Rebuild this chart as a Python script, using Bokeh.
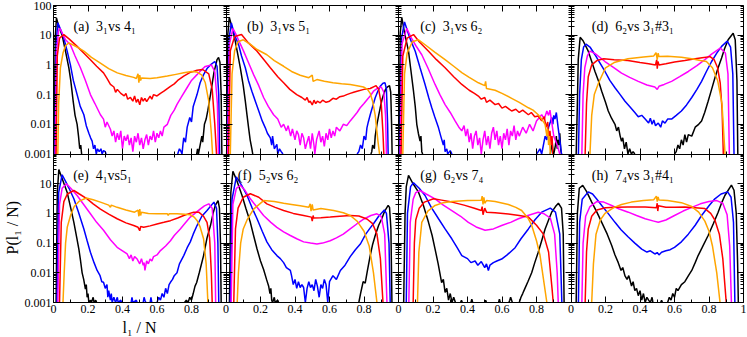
import math
from bokeh.plotting import figure
from bokeh.models import (Range1d, LogAxis, LinearAxis, FixedTicker, Label, Title,
                          LogScale, BasicTickFormatter)
from bokeh.embed import file_html
from bokeh.resources import INLINE

# ---------------- data: (l1/N, P); P = 0 means an empty bin ----------------
A_BLACK = [(0.004,0),(0.01,8),(0.017,38),(0.03,20),(0.05,10),(0.07,2.8),(0.089,0.8),(0.1,0.3),(0.114,0.06),(0.125,0.02),(0.137,0.01),(0.145,0.004),(0.152,0.0015),(0.158,0.002),(0.163,0),
           (0.83,0),(0.835,0.0015),(0.84,0),(0.85,0.002),(0.86,0.004),(0.865,0.0025),(0.875,0.01),(0.885,0.015),(0.895,0.03),(0.91,0.1),(0.93,0.55),(0.948,1.5),(0.957,1.8),(0.965,1.2),(0.972,0.1),(0.976,0)]
A_BLUE = [(0.008,0),(0.015,5),(0.025,26),(0.04,16),(0.06,8),(0.08,2.8),(0.098,1.0),(0.115,0.3),(0.137,0.1),(0.155,0.04),(0.176,0.021),(0.19,0.009),(0.205,0.005),(0.215,0.0035),(0.224,0.0027),(0.232,0.0015),(0.24,0.002),(0.248,0),(0.255,0.0015),(0.265,0.0012),(0.275,0.0015),(0.282,0),(0.29,0.0013),(0.3,0.0012),(0.305,0),
          (0.72,0),(0.73,0.0015),(0.74,0.0012),(0.745,0),(0.75,0.002),(0.755,0.0035),(0.765,0.0025),(0.775,0.008),(0.79,0.017),(0.8,0.012),(0.81,0.04),(0.832,0.1),(0.85,0.25),(0.87,0.47),(0.89,0.75),(0.91,1.0),(0.935,1.3),(0.948,0.9),(0.958,0.1),(0.963,0)]
A_MAGENTA = [(0.01,0),(0.018,3),(0.03,15),(0.037,17),(0.05,12),(0.07,7),(0.098,4.8),(0.125,2.0),(0.156,0.8),(0.185,0.3),(0.214,0.1),(0.24,0.05),(0.272,0.021),(0.29,0.015),(0.3,0.008),(0.31,0.012),(0.33,0.0068),(0.34,0.004),(0.35,0.006),(0.36,0.0025),(0.37,0.005),(0.38,0.003),(0.39,0.006),(0.4,0.0015),(0.41,0.004),(0.42,0.0028),(0.43,0.0045),(0.44,0.002),(0.45,0.0035),(0.46,0.0012),(0.47,0.004),(0.48,0.0025),(0.49,0.005),(0.5,0.002),(0.51,0.0035),(0.52,0.0015),(0.53,0.003),(0.54,0.0045),(0.55,0.002),(0.56,0.004),(0.57,0.003),(0.58,0.006),(0.59,0.0025),(0.6,0.005),(0.61,0.0035),(0.62,0.006),(0.63,0.004),(0.64,0.008),(0.66,0.01),(0.68,0.02),(0.7,0.03),(0.716,0.047),(0.74,0.08),(0.774,0.17),(0.8,0.3),(0.832,0.47),(0.86,0.7),(0.88,0.89),(0.915,1.0),(0.935,0.6),(0.95,0.05),(0.956,0)]
A_RED = [(0.015,0),(0.022,2),(0.035,8),(0.06,10.5),(0.09,7.5),(0.137,4.2),(0.175,2.5),(0.214,1.5),(0.25,0.9),(0.29,0.54),(0.31,0.35),(0.33,0.22),(0.35,0.18),(0.36,0.12),(0.37,0.15),(0.39,0.11),(0.41,0.09),(0.42,0.11),(0.43,0.07),(0.446,0.08),(0.46,0.06),(0.47,0.09),(0.48,0.055),(0.49,0.07),(0.5,0.045),(0.51,0.08),(0.52,0.06),(0.53,0.075),(0.54,0.058),(0.56,0.089),(0.57,0.07),(0.58,0.1),(0.6,0.09),(0.62,0.11),(0.64,0.13),(0.66,0.16),(0.678,0.19),(0.7,0.23),(0.72,0.3),(0.755,0.42),(0.79,0.55),(0.832,0.66),(0.865,0.7),(0.9,0.5),(0.92,0.15),(0.935,0.01),(0.945,0)]
A_ORANGE = [(0.025,0),(0.03,0.05),(0.04,0.8),(0.055,2.5),(0.07,4.5),(0.089,5.5),(0.12,4.5),(0.15,3.6),(0.176,2.9),(0.22,1.8),(0.272,1.15),(0.32,0.75),(0.37,0.54),(0.42,0.44),(0.465,0.38),(0.48,0.35),(0.49,0.5),(0.495,0.25),(0.5,0.45),(0.505,0.3),(0.51,0.36),(0.56,0.35),(0.6,0.37),(0.66,0.42),(0.71,0.48),(0.755,0.54),(0.8,0.6),(0.83,0.58),(0.86,0.45),(0.88,0.25),(0.9,0.06),(0.915,0.005),(0.922,0)]

B_BLACK = [(0.004,0),(0.01,10),(0.019,40),(0.035,18),(0.054,6.2),(0.07,2),(0.083,0.8),(0.1,0.2),(0.112,0.06),(0.122,0.02),(0.131,0.0076),(0.14,0.003),(0.15,0.0015),(0.155,0),
           (0.84,0),(0.845,0.0012),(0.85,0.002),(0.86,0.0015),(0.865,0.004),(0.875,0.01),(0.885,0.02),(0.894,0.036),(0.905,0.07),(0.913,0.1),(0.925,0.15),(0.935,0.18),(0.948,0.2),(0.955,0.12),(0.96,0.01),(0.963,0)]
B_BLUE = [(0.008,0),(0.018,8),(0.031,26),(0.05,10),(0.073,4.8),(0.09,2),(0.112,0.8),(0.13,0.3),(0.15,0.13),(0.17,0.06),(0.19,0.028),(0.21,0.013),(0.228,0.0076),(0.24,0.005),(0.257,0.0035),(0.265,0.002),(0.27,0.004),(0.28,0.0015),(0.295,0.0021),(0.3,0),(0.31,0.0015),(0.32,0.0012),(0.33,0),
          (0.76,0),(0.77,0.0012),(0.78,0.002),(0.79,0.0015),(0.8,0.004),(0.81,0.003),(0.817,0.0076),(0.825,0.012),(0.836,0.021),(0.85,0.04),(0.865,0.078),(0.88,0.13),(0.894,0.19),(0.91,0.24),(0.922,0.25),(0.93,0.15),(0.937,0.01),(0.94,0)]
B_MAGENTA = [(0.01,0),(0.02,5),(0.04,17),(0.06,10),(0.08,5.5),(0.102,2.9),(0.13,1.2),(0.16,0.47),(0.19,0.2),(0.218,0.08),(0.245,0.04),(0.276,0.021),(0.3,0.015),(0.32,0.008),(0.334,0.01),(0.35,0.006),(0.36,0.009),(0.375,0.004),(0.385,0.007),(0.4,0.003),(0.41,0.006),(0.42,0.0045),(0.43,0.002),(0.44,0.005),(0.45,0.0035),(0.46,0.0015),(0.47,0.0025),(0.48,0.004),(0.49,0.0015),(0.5,0.005),(0.51,0.002),(0.515,0),(0.525,0.003),(0.54,0.006),(0.55,0.0025),(0.56,0.004),(0.57,0.0018),(0.58,0.005),(0.59,0.003),(0.6,0.007),(0.61,0.0035),(0.62,0.006),(0.63,0.004),(0.64,0.008),(0.66,0.006),(0.68,0.01),(0.7,0.009),(0.72,0.013),(0.74,0.018),(0.76,0.025),(0.778,0.036),(0.8,0.05),(0.82,0.07),(0.836,0.09),(0.855,0.13),(0.875,0.16),(0.9,0.18),(0.915,0.12),(0.925,0.02),(0.93,0)]
B_RED = [(0.015,0),(0.025,3),(0.05,9),(0.09,10.5),(0.13,5.5),(0.18,2.9),(0.22,1.5),(0.257,0.8),(0.3,0.4),(0.334,0.25),(0.37,0.15),(0.41,0.1),(0.44,0.08),(0.46,0.065),(0.47,0.08),(0.48,0.055),(0.488,0.06),(0.5,0.045),(0.51,0.065),(0.52,0.05),(0.53,0.06),(0.546,0.053),(0.56,0.065),(0.58,0.055),(0.6,0.06),(0.62,0.075),(0.64,0.07),(0.66,0.085),(0.68,0.089),(0.7,0.1),(0.72,0.11),(0.74,0.12),(0.76,0.13),(0.8,0.15),(0.836,0.16),(0.87,0.2),(0.885,0.15),(0.9,0.05),(0.91,0.005),(0.915,0)]
B_ORANGE = [(0.025,0),(0.035,0.5),(0.05,3),(0.07,6),(0.1,7),(0.14,5),(0.18,3.3),(0.237,2.2),(0.28,1.4),(0.334,0.9),(0.38,0.6),(0.43,0.45),(0.48,0.37),(0.5,0.45),(0.505,0.28),(0.527,0.32),(0.57,0.28),(0.62,0.25),(0.67,0.23),(0.72,0.22),(0.76,0.2),(0.797,0.18),(0.82,0.15),(0.836,0.11),(0.85,0.06),(0.865,0.02),(0.88,0.003),(0.89,0)]

C_BLACK = [(0.004,0),(0.01,12),(0.019,40),(0.035,12),(0.058,2.9),(0.07,0.8),(0.087,0.13),(0.097,0.04),(0.106,0.01),(0.115,0.005),(0.125,0.0027),(0.13,0.004),(0.135,0.0012),(0.14,0),
           (0.88,0),(0.885,0.0015),(0.89,0.003),(0.895,0.0012),(0.9,0),(0.91,0.002),(0.915,0.004),(0.92,0.0015),(0.925,0.003),(0.93,0.002),(0.935,0.005),(0.94,0.0015),(0.945,0)]
C_BLUE = [(0.008,0),(0.018,8),(0.035,28),(0.06,10),(0.08,5),(0.097,2.9),(0.125,0.8),(0.154,0.22),(0.175,0.08),(0.193,0.036),(0.21,0.018),(0.232,0.0076),(0.245,0.004),(0.26,0.002),(0.265,0.003),(0.27,0.0012),(0.28,0.0015),(0.285,0),(0.3,0.0013),(0.31,0),
          (0.8,0),(0.81,0.0012),(0.82,0.0015),(0.83,0),(0.84,0.002),(0.85,0.004),(0.86,0.003),(0.87,0.008),(0.88,0.012),(0.888,0.017),(0.895,0.01),(0.9,0.02),(0.907,0.015),(0.915,0.025),(0.925,0.008),(0.935,0.003),(0.945,0)]
C_MAGENTA = [(0.01,0),(0.02,5),(0.048,17),(0.07,9),(0.1,4.5),(0.135,2.2),(0.17,0.8),(0.212,0.22),(0.24,0.1),(0.27,0.046),(0.3,0.025),(0.328,0.013),(0.35,0.008),(0.367,0.006),(0.38,0.009),(0.39,0.004),(0.4,0.007),(0.41,0.0025),(0.42,0.005),(0.43,0.0015),(0.44,0.004),(0.45,0.006),(0.46,0.002),(0.47,0.0035),(0.48,0),(0.49,0.003),(0.5,0.006),(0.51,0.002),(0.52,0.004),(0.53,0.0015),(0.54,0.005),(0.55,0.008),(0.56,0.003),(0.57,0.006),(0.58,0.002),(0.59,0.004),(0.6,0.0015),(0.61,0.005),(0.62,0.003),(0.63,0.007),(0.64,0.002),(0.65,0.006),(0.66,0.004),(0.67,0.009),(0.68,0.003),(0.69,0.006),(0.7,0.004),(0.72,0.008),(0.74,0.005),(0.76,0.01),(0.78,0.006),(0.8,0.013),(0.82,0.018),(0.83,0.021),(0.845,0.015),(0.86,0.028),(0.87,0.02),(0.878,0.03),(0.888,0.012),(0.9,0.004),(0.92,0.002),(0.935,0)]
C_RED = [(0.015,0),(0.025,2),(0.05,8),(0.087,10.5),(0.12,6),(0.174,2.9),(0.22,1.5),(0.27,0.8),(0.32,0.4),(0.367,0.22),(0.41,0.14),(0.44,0.11),(0.463,0.089),(0.48,0.07),(0.5,0.08),(0.51,0.055),(0.53,0.065),(0.56,0.046),(0.58,0.05),(0.6,0.035),(0.62,0.04),(0.656,0.028),(0.68,0.032),(0.7,0.025),(0.72,0.03),(0.753,0.021),(0.77,0.025),(0.79,0.018),(0.81,0.019),(0.83,0.013),(0.845,0.018),(0.855,0.008),(0.865,0.012),(0.872,0.003),(0.878,0.006),(0.885,0.002),(0.89,0.004),(0.895,0)]
C_ORANGE = [(0.025,0),(0.035,0.5),(0.05,2.5),(0.08,6),(0.116,7),(0.16,4.5),(0.21,2.7),(0.27,1.5),(0.32,0.9),(0.367,0.55),(0.41,0.38),(0.463,0.25),(0.5,0.2),(0.505,0.28),(0.51,0.16),(0.56,0.14),(0.6,0.11),(0.656,0.075),(0.7,0.055),(0.753,0.036),(0.78,0.03),(0.81,0.021),(0.83,0.015),(0.85,0.01),(0.86,0.004),(0.865,0.007),(0.87,0.002),(0.875,0.004),(0.88,0)]

D_BLACK = [(0.03,0),(0.037,0.05),(0.042,1.5),(0.053,8.5),(0.07,6.5),(0.1,2.9),(0.12,1.3),(0.139,0.6),(0.16,0.28),(0.178,0.13),(0.2,0.055),(0.216,0.028),(0.235,0.016),(0.255,0.01),(0.265,0.006),(0.275,0.008),(0.285,0.004),(0.293,0.0027),(0.3,0.0035),(0.31,0.0015),(0.32,0.0025),(0.33,0),(0.34,0.0015),(0.35,0),(0.36,0.0012),(0.37,0),
           (0.6,0),(0.61,0.0012),(0.62,0.002),(0.63,0.0015),(0.64,0.003),(0.65,0.002),(0.66,0.0045),(0.67,0.0025),(0.68,0.0045),(0.7,0.004),(0.72,0.008),(0.74,0.01),(0.757,0.013),(0.775,0.025),(0.795,0.06),(0.815,0.15),(0.834,0.36),(0.853,0.8),(0.873,1.7),(0.89,3.5),(0.911,7),(0.94,11.7),(0.952,7),(0.962,0.3),(0.967,0)]
D_BLUE = [(0.043,0),(0.05,0.1),(0.06,1.5),(0.073,4),(0.087,5),(0.11,4),(0.139,2.2),(0.17,1.1),(0.197,0.6),(0.225,0.3),(0.255,0.17),(0.285,0.1),(0.313,0.06),(0.34,0.04),(0.37,0.025),(0.39,0.018),(0.41,0.02),(0.43,0.015),(0.45,0.011),(0.46,0.016),(0.47,0.01),(0.48,0.014),(0.49,0.009),(0.506,0.011),(0.52,0.008),(0.53,0.013),(0.545,0.011),(0.56,0.015),(0.583,0.015),(0.61,0.02),(0.64,0.028),(0.67,0.045),(0.7,0.08),(0.73,0.15),(0.757,0.28),(0.785,0.6),(0.815,1.3),(0.845,2.5),(0.873,4.2),(0.906,6.3),(0.925,4),(0.938,0.5),(0.945,0)]
D_MAGENTA = [(0.063,0),(0.07,0.1),(0.08,0.8),(0.095,2),(0.11,2.9),(0.14,2.4),(0.197,1.3),(0.25,0.8),(0.293,0.53),(0.34,0.38),(0.39,0.28),(0.44,0.21),(0.486,0.18),(0.5,0.15),(0.51,0.19),(0.54,0.22),(0.583,0.28),(0.63,0.4),(0.68,0.6),(0.73,0.95),(0.776,1.5),(0.815,2.3),(0.865,3.7),(0.895,2.5),(0.91,0.5),(0.918,0)]
D_RED = [(0.082,0),(0.09,0.05),(0.1,0.4),(0.12,1.0),(0.15,1.4),(0.19,1.6),(0.25,1.5),(0.33,1.4),(0.4,1.2),(0.45,1.1),(0.49,1.0),(0.497,1.5),(0.5,0.75),(0.504,1.3),(0.51,1.0),(0.55,1.1),(0.6,1.25),(0.66,1.4),(0.72,1.6),(0.76,1.75),(0.806,1.9),(0.83,1.5),(0.85,0.8),(0.865,0.25),(0.876,0.03),(0.883,0)]
D_ORANGE = [(0.11,0),(0.12,0.02),(0.135,0.1),(0.16,0.25),(0.2,0.8),(0.25,1.2),(0.33,1.6),(0.42,1.85),(0.48,2.0),(0.493,2.6),(0.5,1.5),(0.505,2.5),(0.51,1.9),(0.56,1.95),(0.64,1.8),(0.7,1.6),(0.75,1.4),(0.785,1.3),(0.82,0.8),(0.85,0.3),(0.875,0.05),(0.893,0)]

E_BLACK = [(0.015,0),(0.022,5),(0.031,30),(0.05,15),(0.079,5.2),(0.1,1.5),(0.118,0.5),(0.135,0.15),(0.147,0.063),(0.157,0.025),(0.166,0.01),(0.175,0.006),(0.185,0.0028),(0.19,0.004),(0.195,0.0015),(0.2,0.002),(0.205,0),(0.215,0.0012),(0.22,0),(0.23,0.0015),(0.235,0),(0.245,0.0012),(0.25,0),
           (0.76,0),(0.77,0.0012),(0.78,0),(0.79,0.0015),(0.8,0.0012),(0.81,0.002),(0.82,0.0035),(0.83,0.0047),(0.845,0.01),(0.87,0.038),(0.89,0.15),(0.91,0.39),(0.925,1.0),(0.938,1.85),(0.954,2.7),(0.962,1.5),(0.968,0.1),(0.972,0)]
E_BLUE = [(0.02,0),(0.03,5),(0.05,20),(0.07,12),(0.09,7),(0.118,3.1),(0.145,1.1),(0.176,0.3),(0.195,0.12),(0.214,0.049),(0.235,0.022),(0.253,0.012),(0.27,0.008),(0.28,0.005),(0.29,0.0048),(0.3,0.003),(0.31,0.004),(0.315,0.0015),(0.32,0.0025),(0.33,0.0012),(0.335,0.002),(0.34,0),(0.35,0.0015),(0.355,0.0012),(0.36,0),(0.37,0.0015),(0.375,0),(0.39,0.0012),(0.395,0),
          (0.45,0),(0.455,0.0015),(0.46,0),(0.48,0.0012),(0.485,0),(0.52,0),(0.525,0.0015),(0.53,0.0012),(0.535,0),(0.56,0),(0.565,0.0015),(0.57,0),
          (0.6,0),(0.61,0.0015),(0.62,0.0012),(0.63,0.002),(0.64,0.0015),(0.65,0.003),(0.66,0.002),(0.67,0.004),(0.678,0.0048),(0.69,0.006),(0.7,0.008),(0.716,0.01),(0.73,0.02),(0.755,0.038),(0.775,0.07),(0.793,0.11),(0.81,0.2),(0.832,0.39),(0.86,0.8),(0.89,1.25),(0.93,2.4),(0.945,1.5),(0.953,0.1),(0.958,0)]
E_MAGENTA = [(0.025,0),(0.035,2),(0.05,7),(0.075,10),(0.1,7),(0.137,4),(0.175,2),(0.214,0.97),(0.25,0.5),(0.29,0.27),(0.33,0.13),(0.369,0.072),(0.4,0.055),(0.427,0.043),(0.44,0.03),(0.45,0.04),(0.46,0.025),(0.47,0.035),(0.485,0.029),(0.5,0.02),(0.51,0.03),(0.52,0.018),(0.525,0.022),(0.53,0.012),(0.54,0.025),(0.55,0.02),(0.56,0.029),(0.57,0.025),(0.58,0.035),(0.6,0.04),(0.62,0.056),(0.65,0.08),(0.678,0.12),(0.7,0.18),(0.735,0.3),(0.76,0.45),(0.793,0.75),(0.82,1.0),(0.85,1.4),(0.875,1.8),(0.9,2.1),(0.92,1.5),(0.935,0.1),(0.94,0)]
E_RED = [(0.035,0),(0.045,0.5),(0.06,2.5),(0.08,4.5),(0.118,5.9),(0.15,4.5),(0.195,3.1),(0.23,2.1),(0.272,1.4),(0.32,0.95),(0.369,0.66),(0.42,0.48),(0.465,0.39),(0.49,0.34),(0.5,0.26),(0.505,0.36),(0.523,0.34),(0.56,0.38),(0.6,0.44),(0.64,0.5),(0.678,0.57),(0.72,0.7),(0.755,0.85),(0.79,1.0),(0.813,1.1),(0.842,1.1),(0.87,0.8),(0.89,0.5),(0.905,0.15),(0.915,0.01),(0.92,0)]
E_ORANGE = [(0.055,0),(0.062,0.01),(0.07,0.1),(0.08,0.35),(0.1,0.9),(0.12,1.7),(0.15,2.6),(0.19,3.3),(0.23,2.9),(0.272,2.4),(0.32,1.9),(0.33,1.6),(0.335,1.9),(0.369,1.6),(0.42,1.3),(0.47,1.1),(0.49,1.3),(0.495,0.8),(0.5,1.4),(0.505,0.85),(0.51,1.1),(0.55,1.0),(0.6,0.97),(0.66,0.97),(0.665,0.85),(0.67,0.97),(0.716,0.97),(0.76,0.93),(0.793,0.9),(0.815,0.75),(0.832,0.58),(0.85,0.35),(0.87,0.14),(0.885,0.02),(0.895,0)]

F_BLACK = [(0.02,0),(0.028,5),(0.04,26),(0.06,14),(0.093,4),(0.115,1.5),(0.141,0.5),(0.16,0.18),(0.18,0.063),(0.2,0.025),(0.218,0.013),(0.235,0.006),(0.247,0.0036),(0.255,0.002),(0.26,0.003),(0.265,0.0012),(0.27,0),(0.28,0.0015),(0.285,0),(0.3,0.0012),(0.305,0),
           (0.77,0),(0.78,0.002),(0.795,0.005),(0.807,0.0045),(0.82,0.012),(0.836,0.038),(0.85,0.09),(0.865,0.18),(0.885,0.4),(0.903,0.66),(0.92,1.2),(0.94,1.85),(0.948,1.6),(0.956,0.3),(0.962,0)]
F_BLUE = [(0.025,0),(0.035,3),(0.06,17),(0.09,9),(0.122,4),(0.15,1.6),(0.18,0.66),(0.21,0.25),(0.237,0.11),(0.265,0.06),(0.295,0.038),(0.315,0.03),(0.334,0.022),(0.35,0.015),(0.373,0.012),(0.38,0.008),(0.39,0.004),(0.4,0.006),(0.41,0.003),(0.42,0.005),(0.43,0.0032),(0.44,0.004),(0.45,0.0032),(0.46,0),(0.47,0.003),(0.48,0.005),(0.49,0.0032),(0.5,0.004),(0.51,0.0025),(0.52,0.006),(0.53,0.0035),(0.54,0.0015),(0.55,0.004),(0.56,0.003),(0.57,0.006),(0.58,0.004),(0.59,0),(0.6,0.005),(0.62,0.008),(0.64,0.006),(0.663,0.012),(0.69,0.018),(0.72,0.035),(0.75,0.06),(0.78,0.095),(0.81,0.2),(0.835,0.32),(0.855,0.45),(0.885,0.8),(0.918,1.3),(0.93,1.0),(0.945,0.1),(0.952,0)]
F_MAGENTA = [(0.03,0),(0.04,2),(0.06,7),(0.083,8.8),(0.11,6),(0.141,3.1),(0.18,1.6),(0.218,0.85),(0.26,0.5),(0.295,0.34),(0.334,0.24),(0.373,0.18),(0.41,0.14),(0.45,0.11),(0.49,0.1),(0.527,0.094),(0.56,0.1),(0.604,0.12),(0.64,0.15),(0.68,0.2),(0.72,0.3),(0.758,0.44),(0.8,0.65),(0.84,0.85),(0.875,0.97),(0.9,0.8),(0.92,0.2),(0.933,0)]
F_RED = [(0.045,0),(0.055,0.3),(0.07,1.5),(0.1,3.5),(0.141,4.6),(0.19,3.5),(0.237,2.1),(0.285,1.6),(0.334,1.25),(0.39,1.0),(0.45,0.85),(0.495,0.75),(0.5,0.55),(0.505,0.85),(0.508,0.7),(0.55,0.72),(0.604,0.75),(0.66,0.8),(0.72,0.85),(0.77,0.82),(0.817,0.65),(0.85,0.45),(0.875,0.2),(0.895,0.03),(0.91,0)]
F_ORANGE = [(0.065,0),(0.072,0.01),(0.085,0.1),(0.1,0.3),(0.122,0.6),(0.16,1.4),(0.218,2.7),(0.28,2.5),(0.334,2.2),(0.38,2.0),(0.43,1.8),(0.48,1.6),(0.488,2.1),(0.493,1.2),(0.5,2.0),(0.505,1.3),(0.55,1.45),(0.624,1.25),(0.68,1.05),(0.72,0.85),(0.76,0.55),(0.8,0.25),(0.83,0.08),(0.855,0.01),(0.875,0)]

G_BLACK = [(0.03,0),(0.038,1),(0.045,8),(0.058,19),(0.08,11),(0.116,5.2),(0.145,1.8),(0.174,0.5),(0.195,0.18),(0.212,0.063),(0.23,0.02),(0.25,0.0047),(0.26,0.006),(0.27,0.0022),(0.28,0.003),(0.29,0.0012),(0.3,0.002),(0.31,0),(0.32,0.0015),(0.33,0),(0.36,0),(0.365,0.0012),(0.37,0),(0.42,0),(0.425,0.0013),(0.43,0),(0.5,0),(0.505,0.0012),(0.51,0),(0.58,0),(0.585,0.0013),(0.59,0),(0.64,0),(0.645,0.0012),(0.65,0.0015),(0.66,0),
           (0.7,0),(0.71,0.0015),(0.72,0.002),(0.733,0.003),(0.75,0.005),(0.772,0.01),(0.79,0.022),(0.81,0.049),(0.83,0.12),(0.85,0.3),(0.87,0.6),(0.888,1.1),(0.91,1.7),(0.927,2.2),(0.945,1.5),(0.955,0.2),(0.96,0)]
G_BLUE = [(0.045,0),(0.052,1),(0.07,8),(0.087,10.8),(0.12,7),(0.154,4),(0.19,1.6),(0.232,0.66),(0.27,0.3),(0.309,0.14),(0.34,0.07),(0.367,0.038),(0.4,0.03),(0.42,0.022),(0.444,0.025),(0.46,0.018),(0.48,0.024),(0.5,0.015),(0.51,0.02),(0.521,0.012),(0.53,0.018),(0.55,0.022),(0.57,0.025),(0.598,0.029),(0.63,0.04),(0.676,0.07),(0.71,0.14),(0.753,0.3),(0.79,0.6),(0.83,1.1),(0.88,1.5),(0.91,1.1),(0.935,0.2),(0.947,0)]
G_MAGENTA = [(0.06,0),(0.068,0.5),(0.085,3),(0.1,5),(0.125,5.9),(0.16,4.5),(0.212,3.1),(0.26,1.9),(0.309,1.25),(0.36,0.8),(0.405,0.5),(0.45,0.35),(0.502,0.27),(0.55,0.3),(0.598,0.39),(0.65,0.5),(0.695,0.66),(0.75,0.85),(0.81,1.1),(0.84,1.0),(0.88,0.7),(0.905,0.2),(0.92,0.01),(0.926,0)]
G_RED = [(0.085,0),(0.092,0.1),(0.1,0.6),(0.12,1.5),(0.15,2.4),(0.203,3.1),(0.25,2.8),(0.31,2.4),(0.38,1.9),(0.44,1.5),(0.48,1.25),(0.485,1.7),(0.49,0.9),(0.5,1.5),(0.51,1.1),(0.56,1.05),(0.637,0.95),(0.7,0.85),(0.753,0.75),(0.8,0.4),(0.84,0.2),(0.87,0.05),(0.89,0.003),(0.897,0)]
G_ORANGE = [(0.11,0),(0.118,0.05),(0.135,0.5),(0.17,1.2),(0.212,1.85),(0.26,2.3),(0.309,2.5),(0.4,2.7),(0.48,2.75),(0.485,3.8),(0.49,2.0),(0.495,3.5),(0.5,2.2),(0.51,2.7),(0.56,2.5),(0.637,2.0),(0.68,1.6),(0.714,1.25),(0.75,0.7),(0.772,0.4),(0.8,0.12),(0.82,0.04),(0.845,0.004),(0.86,0)]

H_BLACK = [(0.03,0),(0.037,1),(0.048,7),(0.068,8.8),(0.09,5.5),(0.12,2.4),(0.15,1.1),(0.178,0.5),(0.21,0.2),(0.236,0.083),(0.255,0.04),(0.274,0.022),(0.29,0.012),(0.3,0.015),(0.313,0.0079),(0.325,0.006),(0.335,0.008),(0.351,0.0036),(0.36,0.005),(0.37,0.0025),(0.38,0.003),(0.39,0.0017),(0.4,0.0025),(0.41,0.0012),(0.42,0.002),(0.43,0),(0.44,0.0015),(0.45,0.0012),(0.46,0),(0.47,0.0015),(0.475,0),(0.52,0),(0.525,0.0012),(0.53,0),
           (0.56,0),(0.57,0.0015),(0.58,0.0012),(0.59,0.002),(0.6,0.0015),(0.61,0.003),(0.62,0.0025),(0.64,0.004),(0.66,0.005),(0.68,0.0079),(0.7,0.012),(0.72,0.022),(0.737,0.038),(0.76,0.07),(0.795,0.18),(0.825,0.45),(0.853,1.1),(0.875,2.4),(0.892,4),(0.93,9),(0.945,6),(0.958,1),(0.966,0.02),(0.97,0)]
H_BLUE = [(0.043,0),(0.05,0.5),(0.065,3),(0.1,5.3),(0.125,4.5),(0.15,3),(0.178,1.85),(0.215,1.0),(0.255,0.5),(0.29,0.28),(0.332,0.16),(0.37,0.1),(0.41,0.063),(0.44,0.05),(0.46,0.055),(0.486,0.043),(0.5,0.048),(0.51,0.04),(0.525,0.049),(0.55,0.055),(0.575,0.06),(0.6,0.072),(0.64,0.11),(0.68,0.2),(0.72,0.4),(0.757,0.85),(0.8,1.8),(0.834,3.1),(0.87,4.5),(0.908,5.3),(0.928,3.5),(0.942,0.5),(0.95,0)]
H_MAGENTA = [(0.063,0),(0.07,0.1),(0.085,0.8),(0.11,1.7),(0.149,2.5),(0.19,2.4),(0.236,1.85),(0.28,1.4),(0.332,1.1),(0.38,0.85),(0.43,0.66),(0.48,0.55),(0.506,0.5),(0.55,0.6),(0.6,0.85),(0.65,1.2),(0.7,1.6),(0.75,2.1),(0.8,2.5),(0.845,2.7),(0.88,2.2),(0.905,0.9),(0.92,0.08),(0.93,0)]
H_RED = [(0.082,0),(0.09,0.05),(0.1,0.3),(0.12,0.8),(0.15,1.3),(0.2,1.55),(0.26,1.6),(0.33,1.65),(0.43,1.65),(0.495,1.55),(0.5,2.2),(0.503,1.2),(0.507,1.8),(0.55,1.6),(0.6,1.6),(0.66,1.65),(0.72,1.55),(0.776,1.45),(0.81,1.0),(0.834,0.6),(0.86,0.2),(0.88,0.03),(0.9,0)]
H_ORANGE = [(0.12,0),(0.13,0.02),(0.145,0.2),(0.17,0.6),(0.197,1.0),(0.25,1.6),(0.293,2.0),(0.35,2.4),(0.42,2.7),(0.48,2.9),(0.495,3.8),(0.5,2.5),(0.505,3.6),(0.51,2.8),(0.56,2.7),(0.64,2.3),(0.7,1.7),(0.74,1.1),(0.776,0.55),(0.8,0.25),(0.82,0.08),(0.845,0.01),(0.864,0)]

PANEL_LABELS = ["(a)\u00a0\u00a03\u2081vs 4\u2081", "(b)\u00a0\u00a03\u2081vs 5\u2081", "(c)\u00a0\u00a03\u2081vs 6\u2082",
                "(d)\u00a0\u00a06\u2082vs 3\u2081#3\u2081", "(e)\u00a0\u00a04\u2081vs5\u2081", "(f)\u00a0\u00a05\u2082vs 6\u2082",
                "(g)\u00a0\u00a06\u2082vs 7\u2084", "(h)\u00a0\u00a07\u2084vs 3\u2081#4\u2081"]
PANEL_CURVES = [
    [A_BLACK, A_BLUE, A_MAGENTA, A_RED, A_ORANGE],
    [B_BLACK, B_BLUE, B_MAGENTA, B_RED, B_ORANGE],
    [C_BLACK, C_BLUE, C_MAGENTA, C_RED, C_ORANGE],
    [D_BLACK, D_BLUE, D_MAGENTA, D_RED, D_ORANGE],
    [E_BLACK, E_BLUE, E_MAGENTA, E_RED, E_ORANGE],
    [F_BLACK, F_BLUE, F_MAGENTA, F_RED, F_ORANGE],
    [G_BLACK, G_BLUE, G_MAGENTA, G_RED, G_ORANGE],
    [H_BLACK, H_BLUE, H_MAGENTA, H_RED, H_ORANGE],
]
# tick labels of the outer axes: lower row 0.001..10, upper row 0.001..100 (stacked panels)
Y_TICK_LABELS = ["0.001", "0.01", "0.1", "1", "10", "0.001", "0.01", "0.1", "1", "10", "100"]
# four panels side by side, each 0..1; the last one ends with "1"
X_TICK_LABELS = ["0", "0.2", "0.4", "0.6", "0.8"] * 4 + ["1"]
Y_TITLE = "P(l\u2081 / N)"
X_TITLE = "l\u2081 / N"

# ---------------- layout / styling (not data) ----------------
COLORS = ["#000000", "#0000ff", "#ff00ff", "#ff0000", "#ffa500"]
FONT = "Liberation Serif"
LABEL_XPOS = [0.116, 0.122, 0.126, 0.121, 0.114, 0.068, 0.126, 0.121]
LABEL_YPOS = 19.6
YMIN, YMAX = 1e-3, 1e2
# the lower row uses the default y range [1e-3, 1e7] (its panel is the lower half);
# the upper row uses the extra range "top" [1e-8, 1e2] (upper half).
Y_AXIS_POS = [1e-3, 1e-2, 1e-1, 1.0, 1e1, 1e2, 1e3, 1e4, 1e5, 1e6, 1e7]
Y_AXIS_MINOR = [m * 10.0 ** e for e in range(-3, 7) for m in range(2, 10)]
X_AXIS_POS = [0, 0.2, 0.4, 0.6, 0.8, 1, 1.2, 1.4, 1.6, 1.8, 2, 2.2, 2.4, 2.6, 2.8,
              3, 3.2, 3.4, 3.6, 3.8, 4]
X_AXIS_MINOR = [0.1, 0.3, 0.5, 0.7, 0.9, 1.1, 1.3, 1.5, 1.7, 1.9, 2.1, 2.3, 2.5, 2.7, 2.9,
                3.1, 3.3, 3.5, 3.7, 3.9]
YT_ROW = [0.001, 0.01, 0.1, 1, 10, 100]
YT_ROW_MINOR = [m * d for d in (0.001, 0.01, 0.1, 1, 10) for m in range(2, 10)]
XT_PANEL = [0, 0.2, 0.4, 0.6, 0.8, 1.0]
XT_PANEL_MINOR = [0.1, 0.3, 0.5, 0.7, 0.9]
YTITLE_OFFSET = 48   # px from the bottom of the frame to the start of the y title
XTITLE_OFFSET = 69   # px from the left of the frame to the start of the x title
NAN = float("nan")


def prep(points):
    """Empty bins (P=0) are drawn down to the lower axis; runs of empty bins break the line."""
    xs, ys = [], []
    for i, (x, pv) in enumerate(points):
        if pv > 0:
            xs.append(x); ys.append(pv)
        else:
            xs.append(x); ys.append(YMIN)
            if i + 1 < len(points) and points[i + 1][1] <= 0:
                xs.append(NAN); ys.append(NAN)
    return xs, ys


p = figure(frame_width=690, frame_height=297,
           x_range=Range1d(0, 4), y_range=Range1d(1e-3, 1e7),
           y_axis_type="log", x_axis_location=None, y_axis_location=None,
           toolbar_location=None, output_backend="svg",
           min_border_left=53, min_border_right=3, min_border_top=5, min_border_bottom=34,
           background_fill_color="white", border_fill_color="white")
p.outline_line_color = "black"
p.outline_line_width = 1
p.xgrid.visible = False
p.ygrid.visible = False
p.extra_x_ranges = {f"p{k}": Range1d(-k, 4 - k) for k in range(4)}
p.extra_y_ranges = {"top": Range1d(1e-8, 1e2)}
if "extra_y_scales" in p.properties():
    p.extra_y_scales = {"top": LogScale()}

ROWNAMES = ["top", "default"]


def style(ax, show_labels):
    ax.major_tick_in = 6
    ax.major_tick_out = 0
    ax.minor_tick_in = 3
    ax.minor_tick_out = 0
    ax.axis_line_color = "black"
    ax.major_tick_line_color = "black"
    ax.minor_tick_line_color = "black"
    ax.major_label_text_font = FONT
    ax.major_label_text_font_size = "12px"
    ax.major_label_standoff = 2
    ax.major_label_text_color = "black" if show_labels else None
    return ax


# ---- outer labelled axes ----
yax = LogAxis(ticker=FixedTicker(ticks=Y_AXIS_POS, minor_ticks=Y_AXIS_MINOR),
              formatter=BasicTickFormatter(),
              major_label_overrides=dict(zip(Y_AXIS_POS, Y_TICK_LABELS)))
p.add_layout(style(yax, True), "left")
xax = LinearAxis(ticker=FixedTicker(ticks=X_AXIS_POS, minor_ticks=X_AXIS_MINOR),
                 major_label_overrides=dict(zip(X_AXIS_POS, X_TICK_LABELS)))
p.add_layout(style(xax, True), "below")

# ---- axis titles, placed under / beside the lower-left panel as in the original ----
p.add_layout(Title(text=Y_TITLE, align="left", offset=YTITLE_OFFSET, standoff=2,
                   text_font=FONT, text_font_size="16px", text_font_style="normal",
                   text_color="black"), "left")
p.add_layout(Title(text=X_TITLE, align="left", offset=XTITLE_OFFSET, standoff=2,
                   text_font=FONT, text_font_size="16px", text_font_style="normal",
                   text_color="black"), "below")

# ---- inner tick-only axes at panel boundaries (fixed locations, no border space) ----
for rname in ROWNAMES:
    for b in (1, 2, 3):
        p.add_layout(style(LogAxis(y_range_name=rname, fixed_location=b, bounds=(YMIN, YMAX),
                                   ticker=FixedTicker(ticks=YT_ROW, minor_ticks=YT_ROW_MINOR)), False), "left")
    for b in (1, 2, 3, 4):
        p.add_layout(style(LogAxis(y_range_name=rname, fixed_location=b, bounds=(YMIN, YMAX),
                                   ticker=FixedTicker(ticks=YT_ROW, minor_ticks=YT_ROW_MINOR)), False), "right")
for k in range(4):
    xr = f"p{k}"
    for rname in ROWNAMES:
        p.add_layout(style(LinearAxis(x_range_name=xr, y_range_name=rname, fixed_location=YMAX,
                                      bounds=(0, 1), ticker=FixedTicker(ticks=XT_PANEL, minor_ticks=XT_PANEL_MINOR)),
                           False), "above")
    p.add_layout(style(LinearAxis(x_range_name=xr, y_range_name="top", fixed_location=YMIN,
                                  bounds=(0, 1), ticker=FixedTicker(ticks=XT_PANEL, minor_ticks=XT_PANEL_MINOR)),
                       False), "below")

# ---- curves and panel labels ----
for i, curves in enumerate(PANEL_CURVES):
    r, k = divmod(i, 4)
    xr, yr = f"p{k}", ROWNAMES[r]
    for color, pts in zip(COLORS, curves):
        xs, ys = prep(pts)
        p.line(xs, ys, line_color=color, line_width=1.5, x_range_name=xr, y_range_name=yr)
    p.add_layout(Label(x=LABEL_XPOS[i], y=LABEL_YPOS, x_range_name=xr, y_range_name=yr,
                       text=PANEL_LABELS[i], text_font=FONT, text_font_size="14px",
                       text_baseline="middle", text_align="left", text_color="black"))

open("out.html", "w").write(file_html(p, INLINE))
